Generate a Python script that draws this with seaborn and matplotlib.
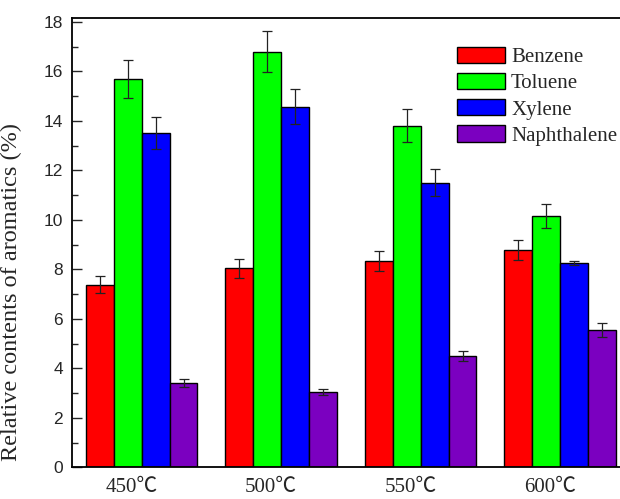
import matplotlib
matplotlib.use("Agg")
import matplotlib.pyplot as plt
import matplotlib.transforms as mtransforms
from matplotlib.ticker import MultipleLocator
import numpy as np
import pandas as pd
import seaborn as sns

# Relative contents of aromatics (%) at each pyrolysis temperature
temps = ["450℃", "500℃", "550℃", "600℃"]
compounds = ["Benzene", "Toluene", "Xylene", "Naphthalene"]
benzene = [7.38, 8.05, 8.35, 8.78]
toluene = [15.7, 16.8, 13.8, 10.17]
xylene = [13.5, 14.57, 11.5, 8.24]
naphthalene = [3.42, 3.04, 4.5, 5.54]
benzene_err = [0.35, 0.38, 0.4, 0.42]
toluene_err = [0.77, 0.83, 0.67, 0.48]
xylene_err = [0.65, 0.7, 0.55, 0.08]
naphthalene_err = [0.16, 0.13, 0.22, 0.28]

colors = ["#FF0000", "#00FF00", "#0000FF", "#7B00C0"]

values = [benzene, toluene, xylene, naphthalene]
errors = [benzene_err, toluene_err, xylene_err, naphthalene_err]
df = pd.DataFrame({
    "temp": temps * len(compounds),
    "compound": np.repeat(compounds, len(temps)),
    "value": np.concatenate(values),
})

sns.set_style("ticks")
plt.rcParams["font.family"] = ["Liberation Serif", "Noto Sans CJK SC", "DejaVu Sans"]
plt.rcParams["ytick.direction"] = "in"

fig = plt.figure(figsize=(6.2, 4.99), dpi=100)
ax = fig.add_axes([0.116, 0.0635, 0.9, 0.9])

sns.barplot(data=df, x="temp", y="value", hue="compound", hue_order=compounds,
            palette=colors, edgecolor="black", linewidth=1, saturation=1,
            width=0.8, errorbar=None, ax=ax)

# error bars at bar centres
for cont, err in zip(ax.containers, errors):
    xs = [p.get_x() + p.get_width() / 2 for p in cont.patches]
    hs = [p.get_height() for p in cont.patches]
    ax.errorbar(xs, hs, yerr=err, fmt="none", ecolor="#222222",
                elinewidth=0.9, capsize=3.5, capthick=0.9)

ax.set_xlim(-0.5, 3.5)
ax.set_ylim(0, 18.15)
ax.yaxis.set_major_locator(MultipleLocator(2))
ax.yaxis.set_minor_locator(MultipleLocator(1))
ax.tick_params(axis="y", which="major", direction="in", length=7, width=1,
               labelsize=12.5, pad=6.5)
ax.tick_params(axis="y", which="minor", direction="in", length=4, width=1)
ax.tick_params(axis="x", length=0, labelsize=15, pad=8)
for lab in ax.get_yticklabels():
    lab.set_fontfamily("Liberation Sans")
shift = mtransforms.ScaledTranslation(-10 / 100, 0, fig.dpi_scale_trans)
for lab in ax.get_xticklabels():
    lab.set_transform(lab.get_transform() + shift)

for s in ax.spines.values():
    s.set_linewidth(1.3)
    s.set_color("black")

ax.set_xlabel("")
ax.set_ylabel("Relative contents of aromatics (%)", fontsize=17.5)
ax.yaxis.set_label_coords(-0.09, 0.39)

ax.legend(loc="upper left", bbox_to_anchor=(0.69, 0.936), frameon=False,
          fontsize=15, handlelength=2.3, handleheight=0.82,
          labelspacing=0.28, handletextpad=0.3, borderpad=0, borderaxespad=0)

fig.savefig("out.png", dpi=100)
